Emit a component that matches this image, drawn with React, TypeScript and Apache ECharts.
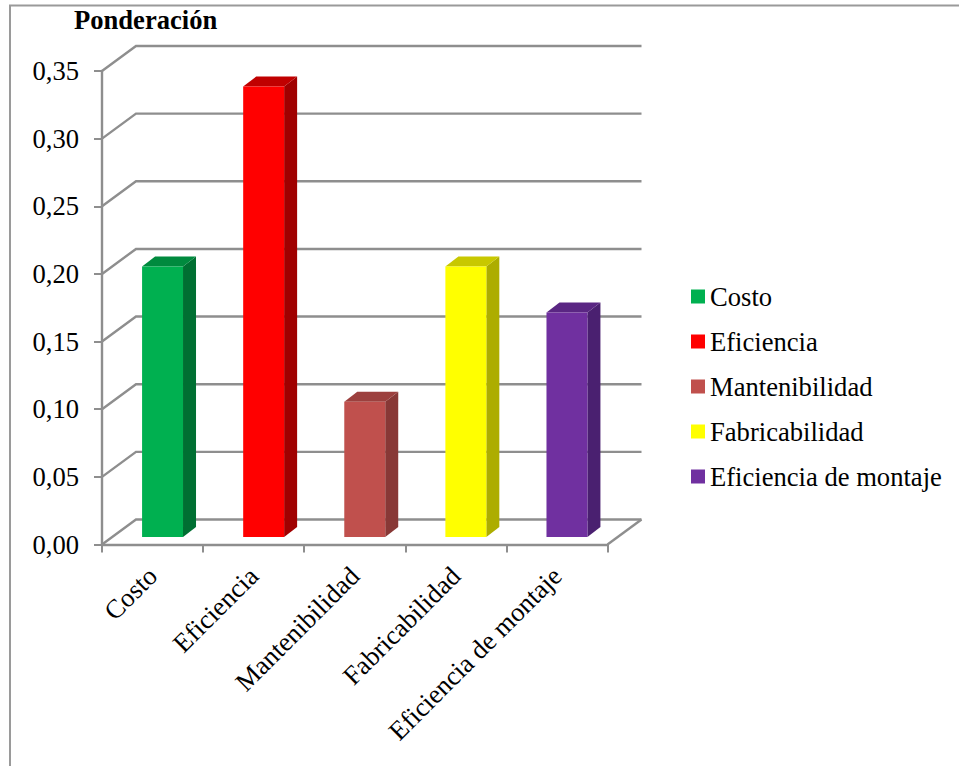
import React, { useEffect, useRef } from "react";
import * as echarts from "echarts";

const categories = ["Costo", "Eficiencia", "Mantenibilidad", "Fabricabilidad", "Eficiencia de montaje"];
const weights = [0.2, 0.333, 0.1, 0.2, 0.166];
const faceColors = ["#00B050", "#FF0000", "#C0504D", "#FFFF00", "#7030A0"];
const topColors = ["#008A3E", "#C00000", "#9C403E", "#C8C800", "#5A2683"];
const sideColors = ["#006F32", "#A00000", "#883836", "#ADAD00", "#4A2070"];
const gridTicks = [0, 0.05, 0.1, 0.15, 0.2, 0.25, 0.3, 0.35];

const FONT = '"Liberation Serif", "Times New Roman", serif';
const FONT_SIZE = 26.6;
const LINE = "#8E8E8E";
// Receding offset of the back wall, and of the bar's front and back faces.
const WALL = [34, -25];
const BAR_FRONT = [10, -7.5];
const BAR_DEPTH = [13, -10];

function renderWall(_: any, api: any) {
  const [, y] = api.coord([0, api.value(1)]);
  const sys = _.coordSys;
  const x0 = sys.x;
  const x1 = sys.x + sys.width;
  const children: any[] = [
    {
      type: "polyline",
      shape: { points: [[x0, y], [x0 + WALL[0], y + WALL[1]], [x1 + WALL[0], y + WALL[1]]] },
      style: { stroke: LINE, lineWidth: 2.4, fill: "none" },
    },
  ];
  if (api.value(1) === 0) {
    children.push({
      type: "line",
      shape: { x1, y1: y, x2: x1 + WALL[0], y2: y + WALL[1] },
      style: { stroke: LINE, lineWidth: 2.4 },
    });
  }
  return { type: "group", children };
}

function renderBar(i: number) {
  return (_: any, api: any) => {
    const [cx, yTop] = api.coord([api.value(0), api.value(1)]);
    const [, yBase] = api.coord([api.value(0), 0]);
    const w = api.size([1, 0])[0] * 0.405;
    const l = cx + BAR_FRONT[0] - w / 2;
    const r = l + w;
    const t = yTop + BAR_FRONT[1];
    const b = yBase + BAR_FRONT[1];
    const [dx, dy] = BAR_DEPTH;
    return {
      type: "group",
      children: [
        {
          type: "polygon",
          shape: { points: [[r, t], [r + dx, t + dy], [r + dx, b + dy], [r, b]] },
          style: { fill: sideColors[i] },
        },
        {
          type: "polygon",
          shape: { points: [[l, t], [l + dx, t + dy], [r + dx, t + dy], [r, t]] },
          style: { fill: topColors[i] },
        },
        { type: "rect", shape: { x: l, y: t, width: w, height: b - t }, style: { fill: faceColors[i] } },
      ],
    };
  };
}

export default function App() {
  const ref = useRef<HTMLDivElement>(null);

  useEffect(() => {
    document.body.style.margin = "0";
    const chart = echarts.init(ref.current!, undefined, { renderer: "svg" });
    chart.setOption({
      animation: false,
      backgroundColor: "#fff",
      textStyle: { fontFamily: FONT },
      title: {
        text: "Ponderación",
        left: 69,
        top: 1,
        textStyle: { fontFamily: FONT, fontSize: FONT_SIZE, fontWeight: "bold", color: "#000" },
      },
      legend: {
        left: 691,
        top: 283,
        padding: 0,
        orient: "vertical",
        icon: "rect",
        itemWidth: 14,
        itemHeight: 14,
        itemGap: 18,
        data: categories,
        textStyle: { fontFamily: FONT, fontSize: FONT_SIZE, color: "#000" },
      },
      grid: { left: 102, top: 71, width: 505.5, height: 473.5 },
      xAxis: {
        type: "category",
        data: categories,
        axisLine: { lineStyle: { color: LINE, width: 2.4 } },
        axisTick: { show: true, length: 8, lineStyle: { color: LINE, width: 2 } },
        axisLabel: {
          rotate: 45,
          interval: 0,
          margin: 27,
          fontFamily: FONT,
          fontSize: FONT_SIZE,
          color: "#000",
        },
      },
      yAxis: {
        type: "value",
        min: 0,
        max: 0.35,
        interval: 0.05,
        splitLine: { show: false },
        axisLine: { show: true, lineStyle: { color: LINE, width: 2.4 } },
        axisTick: { show: true, length: 8, lineStyle: { color: LINE, width: 2 } },
        axisLabel: {
          margin: 23,
          fontFamily: FONT,
          fontSize: FONT_SIZE,
          color: "#000",
          formatter: (v: number) => v.toFixed(2).replace(".", ","),
        },
      },
      series: [
        {
          name: "wall",
          type: "custom",
          z: 1,
          silent: true,
          clip: false,
          renderItem: renderWall,
          encode: { x: 0, y: 1 },
          data: gridTicks.map((v) => [0, v]),
        },
        ...categories.map((name, i) => ({
          name,
          type: "custom",
          z: 3,
          clip: false,
          itemStyle: { color: faceColors[i] },
          renderItem: renderBar(i),
          encode: { x: 0, y: 1 },
          data: [[i, weights[i]]],
        })),
      ],
      graphic: [
        {
          type: "polyline",
          silent: true,
          shape: { points: [[10, 766], [10, 5.5], [959, 5.5]] },
          style: { stroke: "#9A9A9A", lineWidth: 2, fill: "none" },
        },
      ],
    });
    return () => chart.dispose();
  }, []);

  return <div ref={ref} style={{ width: 959, height: 766 }} />;
}
